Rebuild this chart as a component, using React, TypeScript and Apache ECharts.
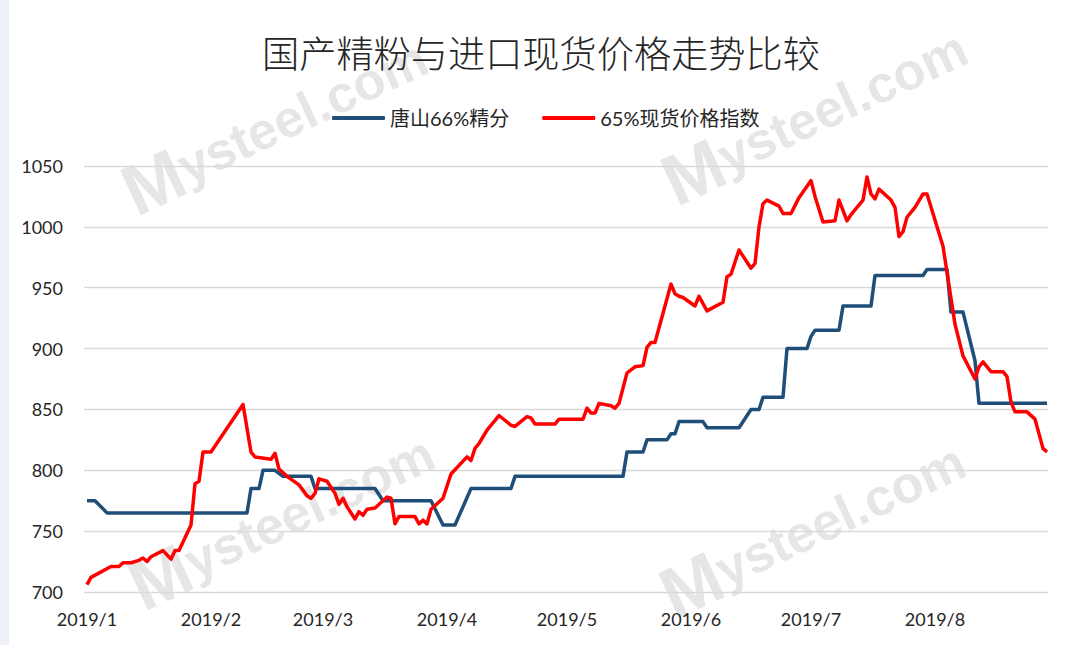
import React, { useEffect, useRef } from 'react';
import * as echarts from 'echarts';

const chartTitle = '国产精粉与进口现货价格走势比较';
const seriesNames = ['唐山66%精分', '65%现货价格指数'];
const monthTicks = ['2019-01-01', '2019-02-01', '2019-03-01', '2019-04-01', '2019-05-01', '2019-06-01', '2019-07-01', '2019-08-01'];
const watermarkText = 'Mysteel.com';

const blueDates = [
  '2019-01-01', '2019-01-03', '2019-01-06', '2019-02-10', '2019-02-11', '2019-02-13', '2019-02-14', '2019-02-17',
  '2019-02-19', '2019-02-26', '2019-02-27', '2019-03-14', '2019-03-16', '2019-03-28', '2019-03-31', '2019-04-03',
  '2019-04-07', '2019-04-17', '2019-04-18', '2019-05-15', '2019-05-16', '2019-05-20', '2019-05-21', '2019-05-26',
  '2019-05-27', '2019-05-28', '2019-05-29', '2019-06-04', '2019-06-05', '2019-06-13', '2019-06-16', '2019-06-18',
  '2019-06-19', '2019-06-24', '2019-06-25', '2019-06-30', '2019-07-01', '2019-07-02', '2019-07-08', '2019-07-09',
  '2019-07-16', '2019-07-17', '2019-07-29', '2019-07-30', '2019-08-04', '2019-08-05', '2019-08-08', '2019-08-11',
  '2019-08-12', '2019-08-29'
];
const blueValues = [
  775, 775, 765, 765, 785, 785, 800, 800,
  795, 795, 785, 785, 775, 775, 755, 755,
  785, 785, 795, 795, 815, 815, 825, 825,
  830, 830, 840, 840, 835, 835, 850, 850,
  860, 860, 900, 900, 910, 915, 915, 935,
  935, 960, 960, 965, 965, 930, 930, 890,
  855, 855
];

const redDates = [
  '2019-01-01', '2019-01-02', '2019-01-07', '2019-01-09', '2019-01-10', '2019-01-12', '2019-01-14', '2019-01-15',
  '2019-01-16', '2019-01-17', '2019-01-20', '2019-01-22', '2019-01-23', '2019-01-24', '2019-01-26', '2019-01-27',
  '2019-01-28', '2019-01-29', '2019-01-30', '2019-02-01', '2019-02-09', '2019-02-11', '2019-02-12', '2019-02-16',
  '2019-02-17', '2019-02-18', '2019-02-20', '2019-02-23', '2019-02-25', '2019-02-26', '2019-02-27', '2019-02-28',
  '2019-03-02', '2019-03-04', '2019-03-05', '2019-03-06', '2019-03-07', '2019-03-09', '2019-03-10', '2019-03-11',
  '2019-03-12', '2019-03-14', '2019-03-17', '2019-03-18', '2019-03-19', '2019-03-20', '2019-03-24', '2019-03-25',
  '2019-03-26', '2019-03-27', '2019-03-28', '2019-03-30', '2019-03-31', '2019-04-02', '2019-04-06', '2019-04-07',
  '2019-04-08', '2019-04-09', '2019-04-11', '2019-04-14', '2019-04-17', '2019-04-18', '2019-04-21', '2019-04-22',
  '2019-04-23', '2019-04-28', '2019-04-29', '2019-05-05', '2019-05-06', '2019-05-07', '2019-05-08', '2019-05-09',
  '2019-05-12', '2019-05-13', '2019-05-14', '2019-05-16', '2019-05-18', '2019-05-20', '2019-05-21', '2019-05-22',
  '2019-05-23', '2019-05-27', '2019-05-28', '2019-05-29', '2019-05-30', '2019-06-02', '2019-06-03', '2019-06-05',
  '2019-06-09', '2019-06-10', '2019-06-11', '2019-06-13', '2019-06-16', '2019-06-17', '2019-06-18', '2019-06-19',
  '2019-06-20', '2019-06-23', '2019-06-24', '2019-06-26', '2019-06-28', '2019-07-01', '2019-07-02', '2019-07-04',
  '2019-07-07', '2019-07-08', '2019-07-10', '2019-07-11', '2019-07-14', '2019-07-15', '2019-07-16', '2019-07-17',
  '2019-07-18', '2019-07-21', '2019-07-22', '2019-07-23', '2019-07-24', '2019-07-25', '2019-07-27', '2019-07-29',
  '2019-07-30', '2019-08-03', '2019-08-06', '2019-08-08', '2019-08-11', '2019-08-12', '2019-08-13', '2019-08-15',
  '2019-08-18', '2019-08-19', '2019-08-20', '2019-08-21', '2019-08-24', '2019-08-26', '2019-08-28', '2019-08-29'
];
const redValues = [
  706, 712, 721, 721, 724, 724, 726, 728,
  725, 729, 734, 727, 734, 734, 748, 755,
  789, 791, 815, 815, 854, 815, 811, 809,
  814, 801, 795, 788, 779, 777, 781, 793,
  791, 781, 772, 777, 770, 760, 766, 763,
  768, 769, 778, 777, 756, 762, 762, 756,
  759, 756, 768, 774, 777, 797, 811, 808,
  818, 822, 833, 845, 837, 836, 844, 843,
  838, 838, 842, 842, 851, 847, 847, 855,
  853, 851, 855, 880, 885, 886, 901, 905,
  905, 953, 945, 943, 942, 935, 943, 931,
  938, 959, 961, 981, 966, 970, 1000, 1019,
  1022, 1017, 1011, 1011, 1024, 1038, 1025, 1004,
  1005, 1022, 1005, 1010, 1022, 1041, 1027, 1023,
  1031, 1022, 1016, 992, 996, 1008, 1016, 1027,
  1027, 984, 920, 894, 875, 885, 889, 881,
  881, 877, 856, 848, 848, 842, 818, 815
];

const DAY = 86400000;
function ts(s: string): number {
  const [y, m, d] = s.split('-').map(Number);
  return Date.UTC(y, m - 1, d);
}
const origin = ts('2019-01-01');
function dayIndex(s: string): number {
  return Math.round((ts(s) - origin) / DAY);
}

export default function App() {
  const ref = useRef<HTMLDivElement>(null);
  useEffect(() => {
    if (!ref.current) return;
    const chart = echarts.init(ref.current, undefined, { renderer: 'svg' });
    const labelFont = "Lato, 'Noto Sans CJK SC', sans-serif";
    const monthDays = monthTicks.map(dayIndex);
    const wmPositions = [
      [275, 125], [815, 115], [282, 520], [813, 528]
    ];
    const wmFill = 'rgba(150,150,150,0.24)';
    const option: any = {
      animation: false,
      backgroundColor: '#ffffff',
      title: {
        text: chartTitle,
        left: 257,
        top: 28,
        textStyle: {
          fontFamily: "'Noto Sans CJK SC', sans-serif",
          fontSize: 37.2,
          fontWeight: 300,
          color: '#262626'
        }
      },
      legend: {
        left: 327,
        top: 103,
        itemWidth: 53,
        itemHeight: 4,
        itemGap: 33,
        icon: 'roundRect',
        textStyle: { fontFamily: labelFont, fontSize: 20, color: '#262626' },
        data: seriesNames
      },
      graphic: [
        { type: 'rect', z: -10, shape: { x: 0, y: 0, width: 9, height: 645 }, style: { fill: '#eef2f8' } },
        ...wmPositions.map(([x, y]) => ({
          type: 'text',
          z: -5,
          x,
          y,
          rotation: (25 * Math.PI) / 180,
          style: {
            text: '{m|' + watermarkText.slice(0, 1) + '}{r|' + watermarkText.slice(1) + '}',
            rich: {
              m: { fontSize: 72, fontWeight: 'bold', fontFamily: "'Liberation Sans', Arial", fill: wmFill },
              r: { fontSize: 52, fontWeight: 'bold', fontFamily: "'Liberation Sans', Arial", fill: wmFill }
            },
            align: 'center',
            verticalAlign: 'middle'
          }
        }))
      ],
      grid: { left: 84, right: 23, top: 166, bottom: 53 },
      xAxis: {
        type: 'value',
        min: -0.75,
        max: 240.25,
        axisLine: { show: false },
        axisTick: { show: false },
        splitLine: { show: false },
        axisLabel: {
          customValues: monthDays,
          formatter: (v: number) => {
            const d = new Date(origin + Math.round(v) * DAY);
            return d.getUTCFullYear() + '/' + (d.getUTCMonth() + 1);
          },
          fontFamily: labelFont,
          fontSize: 18,
          color: '#262626',
          margin: 18
        }
      },
      yAxis: {
        type: 'value',
        min: 700,
        max: 1050,
        interval: 50,
        axisLine: { show: false },
        axisTick: { show: false },
        splitLine: { lineStyle: { color: '#d9d9d9', width: 1.3 } },
        axisLabel: {
          formatter: (v: number) => String(v),
          fontFamily: labelFont,
          fontSize: 18,
          color: '#262626',
          margin: 21
        }
      },
      series: [
        {
          name: seriesNames[0],
          type: 'line',
          symbol: 'none',
          data: blueDates.map((d, i) => [dayIndex(d), blueValues[i]]),
          lineStyle: { color: '#1F4E79', width: 3.5, join: 'round' },
          itemStyle: { color: '#1F4E79' },
          z: 3
        },
        {
          name: seriesNames[1],
          type: 'line',
          symbol: 'none',
          data: redDates.map((d, i) => [dayIndex(d), redValues[i]]),
          lineStyle: { color: '#FF0000', width: 3.5, join: 'round' },
          itemStyle: { color: '#FF0000' },
          z: 4
        }
      ]
    };
    chart.setOption(option);
    return () => chart.dispose();
  }, []);
  return <div ref={ref} style={{ position: 'fixed', left: 0, top: 0, width: 1071, height: 645 }} />;
}
